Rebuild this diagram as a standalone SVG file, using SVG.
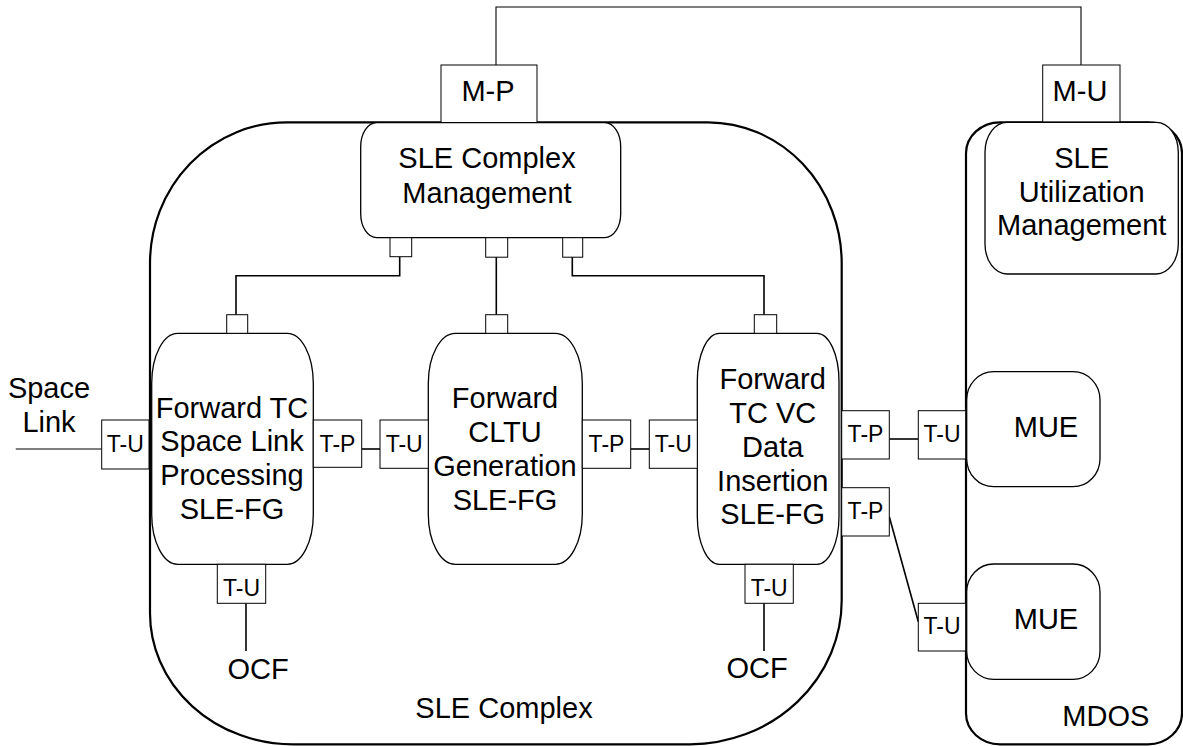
<svg xmlns="http://www.w3.org/2000/svg" width="1183" height="746" viewBox="0 0 1183 746">
<style>
text{font-family:"Liberation Sans",Arial,sans-serif;fill:#000;text-anchor:middle}
.big{font-size:29px}
.sm{font-size:23px}
.cont{fill:none;stroke:#000;stroke-width:2.2}
.node{fill:#fff;stroke:#000;stroke-width:1.3}
.box{fill:#fff;stroke:#000;stroke-width:1}
.con{fill:none;stroke:#000;stroke-width:1.6}
.thin{fill:none;stroke:#000;stroke-width:1.1}
</style>
<rect width="1183" height="746" fill="#fff"/>
<g id="sle-complex">
<path class="cont" d="M287,122.3 L708,122.3 A134,141 0 0 1 841.7,263 L841.7,600 A152,144 0 0 1 690,744.3 L293,744.3 A143,131 0 0 1 150,613 L150,263 A137,141 0 0 1 287,122.3 Z"/>
<text class="big" x="504" y="717.5">SLE Complex</text>
</g>
<g id="mdos">
<rect class="cont" x="966" y="122.3" width="216" height="622" rx="34" ry="31"/>
<text class="big" x="1105.8" y="726">MDOS</text>
</g>
<g id="connectors">
<polyline class="thin" points="496,65 496,7 1081,7 1081,65"/>
<polyline class="con" points="399.7,257 399.7,275.7 236,275.7 236,314.7"/>
<line class="con" x1="496.3" y1="257" x2="496.3" y2="314.7"/>
<polyline class="con" points="572.3,257 572.3,275.7 764,275.7 764,314.7"/>
<line class="thin" x1="15.7" y1="449" x2="101.7" y2="449"/>
<line class="con" x1="361.7" y1="449" x2="380" y2="449"/>
<line class="con" x1="630.7" y1="449" x2="649.3" y2="449"/>
<line class="con" x1="889.3" y1="439" x2="918.3" y2="439"/>
<line class="con" x1="889.3" y1="516.7" x2="918.3" y2="621.7"/>
<line class="con" x1="246" y1="603.3" x2="246" y2="651"/>
<line class="con" x1="764" y1="603.3" x2="764" y2="651"/>
</g>
<g id="mp">
<rect class="box" x="441" y="65" width="96" height="57.7"/>
<text class="big" x="488" y="101">M-P</text>
</g>
<g id="mu">
<rect class="box" x="1042.7" y="65" width="77.3" height="57"/>
<text class="big" x="1080" y="101">M-U</text>
</g>
<g id="sle-complex-management">
<rect class="node" x="360.7" y="122.7" width="260" height="115" rx="16" ry="24"/>
<text class="big" x="487" y="168.3">SLE Complex</text>
<text class="big" x="487" y="202.7">Management</text>
<rect class="box" x="390" y="237.7" width="21.7" height="19"/>
<rect class="box" x="485.7" y="237.7" width="22" height="19.5"/>
<rect class="box" x="562.7" y="237.7" width="20" height="19.5"/>
</g>
<g id="sle-utilization-management">
<rect class="node" x="985" y="122.3" width="193.3" height="151.7" rx="22" ry="30"/>
<text class="big" x="1081.7" y="168.3">SLE</text>
<text class="big" x="1081.7" y="202.3">Utilization</text>
<text class="big" x="1081.7" y="235">Management</text>
</g>
<g id="space-link">
<text class="big" x="49" y="398.3">Space</text>
<text class="big" x="49" y="431.7">Link</text>
</g>
<g id="fg1">
<rect class="node" x="151.7" y="333.3" width="161.6" height="231" rx="26" ry="50"/>
<text class="big" x="232" y="418.3">Forward TC</text>
<text class="big" x="232" y="450.7">Space Link</text>
<text class="big" x="232" y="485.3">Processing</text>
<text class="big" x="232" y="519">SLE-FG</text>
<rect class="box" x="226.7" y="314.7" width="21" height="18.6"/>
<rect class="box" x="101.7" y="420" width="47.3" height="49"/>
<text class="sm" x="125.3" y="451.7">T-U</text>
<rect class="box" x="313.3" y="420" width="48.4" height="47.3"/>
<text class="sm" x="337.5" y="451.7">T-P</text>
<rect class="box" x="217.3" y="564.3" width="48.4" height="39"/>
<text class="sm" x="241.5" y="596">T-U</text>
</g>
<g id="ocf1">
<text class="big" x="258" y="679">OCF</text>
</g>
<g id="fg2">
<rect class="node" x="428.3" y="333.3" width="154" height="231" rx="27" ry="50"/>
<text class="big" x="505" y="408.3">Forward</text>
<text class="big" x="505" y="442.3">CLTU</text>
<text class="big" x="505" y="476">Generation</text>
<text class="big" x="505" y="510">SLE-FG</text>
<rect class="box" x="485.7" y="314.7" width="22" height="18.6"/>
<rect class="box" x="380" y="420" width="48.3" height="48.3"/>
<text class="sm" x="404.2" y="451.7">T-U</text>
<rect class="box" x="582.3" y="420" width="48.4" height="48.3"/>
<text class="sm" x="606.5" y="451.7">T-P</text>
</g>
<g id="fg3">
<rect class="node" x="697.3" y="333.3" width="141.7" height="231" rx="22" ry="48"/>
<text class="big" x="772.7" y="389.3">Forward</text>
<text class="big" x="772.7" y="423.3">TC VC</text>
<text class="big" x="772.7" y="456.7">Data</text>
<text class="big" x="772.7" y="490.7">Insertion</text>
<text class="big" x="772.7" y="524">SLE-FG</text>
<rect class="box" x="754.3" y="314.7" width="22.4" height="18.6"/>
<rect class="box" x="649.3" y="420" width="48" height="48.3"/>
<text class="sm" x="673.3" y="451.7">T-U</text>
<rect class="box" x="841.7" y="410.7" width="47.6" height="48.3"/>
<text class="sm" x="865.5" y="441.7">T-P</text>
<rect class="box" x="841.7" y="487.7" width="47.6" height="48.3"/>
<text class="sm" x="865.5" y="518.5">T-P</text>
<rect class="box" x="745" y="564.3" width="48.3" height="39"/>
<text class="sm" x="769.2" y="595.7">T-U</text>
</g>
<g id="ocf2">
<text class="big" x="757" y="677.5">OCF</text>
</g>
<g id="mue1">
<rect class="node" x="966.7" y="371.7" width="133.3" height="115" rx="27" ry="28"/>
<text class="big" x="1046" y="437.3">MUE</text>
<rect class="box" x="918.3" y="410.7" width="47.4" height="48.3"/>
<text class="sm" x="942" y="442">T-U</text>
</g>
<g id="mue2">
<rect class="node" x="966.7" y="564" width="133.3" height="115.3" rx="27" ry="28"/>
<text class="big" x="1046" y="629.3">MUE</text>
<rect class="box" x="918.3" y="603.3" width="47.4" height="47.7"/>
<text class="sm" x="942" y="634">T-U</text>
</g>
</svg>
